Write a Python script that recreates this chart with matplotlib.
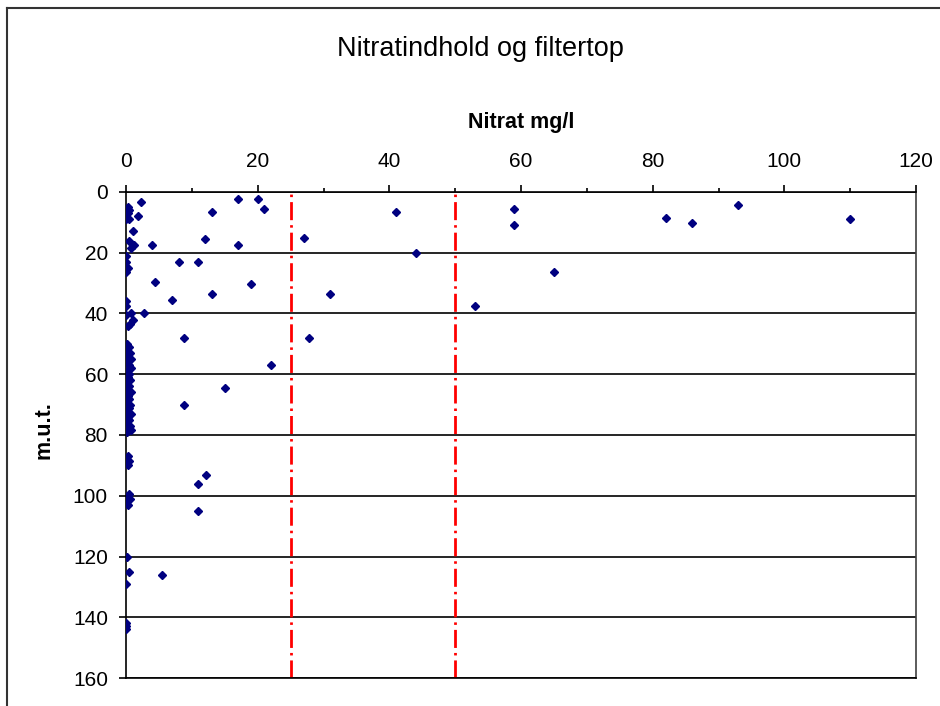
import matplotlib
matplotlib.use('Agg')
import matplotlib.pyplot as plt
from matplotlib.lines import Line2D
from matplotlib.ticker import MultipleLocator

plt.rcParams['font.family'] = ['Liberation Sans', 'DejaVu Sans']

# Nitrate (mg/l) and filter top depth (m.u.t.)
nitrat = [2.3, 17, 20, 21, 13, 1.8, 41, 59, 59, 82, 86, 93, 110,
          1, 12, 27, 4, 17, 44, 8, 11, 65, 4.4, 19, 13, 31, 7, 53,
          2.7, 8.8, 27.8, 22, 15, 8.8, 12.1, 11, 11, 5.4,
          0.3, 0.5, 0.3, 0, 0.5, 0.5, 1.2, 0.7, 0, 0, 0.3, 0,
          0, 0, 0, 0.7, 1, 0.6, 0.3,
          0.2, 0.5, 0.1, 0.6, 0.3, 0.8, 0.2, 0.4, 0.7, 0.1, 0.5, 0.3, 0.6, 0.2,
          0.4, 0, 0.7, 0.3, 0.5, 0.1, 0.6, 0.4, 0.2, 0.8, 0.3, 0.5, 0.1, 0.6,
          0.4, 0.7, 0.2,
          0.3, 0.5, 0.3, 0.5, 0.2, 0.6, 0, 0.3, 0.2, 0.5, 0, 0, 0, 0]
dybde = [3.2, 2.3, 2.3, 5.6, 6.5, 8, 6.5, 5.7, 10.8, 8.4, 10.3, 4.3, 9,
         13, 15.5, 15, 17.5, 17.5, 20, 23, 23, 26.4, 29.6, 30.2, 33.5, 33.5, 35.5, 37.5,
         40, 48, 48, 57, 64.5, 70, 93.3, 96, 105, 126,
         4.8, 6, 7, 9, 9, 16, 17.5, 18.5, 21, 23, 25, 26.5,
         36, 37.5, 40.5, 40, 42, 43.4, 44,
         50, 51, 52, 53, 54, 55, 56, 57, 58, 59, 60, 61, 62, 63,
         64, 65, 66, 67, 68, 69, 70, 71, 72, 73, 74, 75, 76, 77,
         78, 78.5, 79,
         87, 88.5, 90, 99.3, 100.5, 101, 102.3, 103.2, 120.3, 125, 129, 142, 143, 144]

# Reference limits
graenser = [25, 50]

fig = plt.figure(figsize=(9.4, 7.06), dpi=100)
ax = fig.add_axes([126 / 940, 1 - 678 / 706, 790 / 940, 486 / 706])

# Scatter points
ax.plot(nitrat, dybde, linestyle='none', marker='D', markersize=3.8,
        color='#000080', zorder=3)

# Red dash-dot limit lines
for g in graenser:
    ax.axvline(x=g, color='#FF0000', linewidth=2,
               linestyle=(0, (6.5, 1.8, 0.9, 1.8)), zorder=2)

# Axis setup: x on top, depth increasing downwards
ax.set_xlim(0, 120)
ax.set_ylim(160, 0)
ax.xaxis.tick_top()
ax.xaxis.set_major_locator(MultipleLocator(20))
ax.xaxis.set_minor_locator(MultipleLocator(10))
ax.yaxis.set_major_locator(MultipleLocator(20))
ax.tick_params(axis='x', which='major', length=5, width=1.2, labelsize=15, pad=10)
ax.tick_params(axis='x', which='minor', length=3, width=1.2)
ax.tick_params(axis='y', which='major', length=5, width=1.2, labelsize=15, pad=8)

# Horizontal grid lines
ax.grid(axis='y', color='black', linewidth=1.2)
ax.set_axisbelow(True)

for side in ['top', 'left', 'bottom']:
    ax.spines[side].set_color('black')
    ax.spines[side].set_linewidth(1.2)
ax.spines['right'].set_color('#404040')
ax.spines['right'].set_linewidth(1.2)

# Labels
fig.text(480 / 940, 1 - 56 / 706, 'Nitratindhold og filtertop', ha='center', va='baseline', fontsize=19.5)
fig.text(521 / 940, 1 - 128 / 706, 'Nitrat mg/l', ha='center', va='baseline', fontsize=15.5, fontweight='bold')
fig.text(44 / 940, 1 - 430 / 706, 'm.u.t.', ha='center', va='center', rotation=90, fontsize=15.5, fontweight='bold')

# Outer frame (top and left edges visible)
fig.add_artist(Line2D([7 / 940, 1.0], [1 - 8 / 706, 1 - 8 / 706], transform=fig.transFigure, color='#333333', linewidth=1.5))
fig.add_artist(Line2D([7 / 940, 7 / 940], [0.0, 1 - 8 / 706], transform=fig.transFigure, color='#333333', linewidth=1.5))

fig.savefig('out.png', dpi=100)
